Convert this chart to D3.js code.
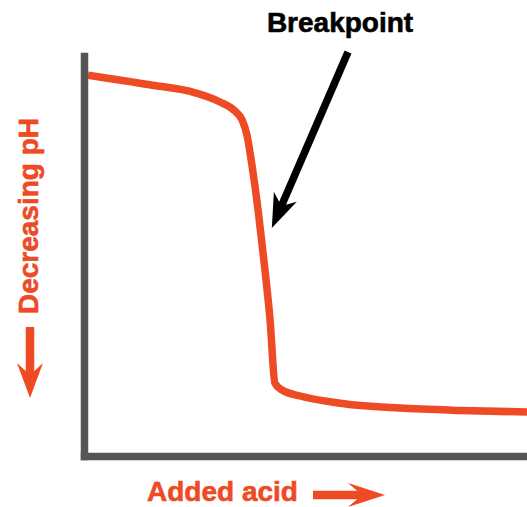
<!DOCTYPE html>
<html>
<head>
<meta charset="utf-8">
<script src="https://cdn.jsdelivr.net/npm/d3@7"></script>
<style>
  body { margin: 0; background: #fff; }
  text { font-family: "Liberation Sans", Arial, sans-serif; font-weight: bold; }
</style>
</head>
<body>
<svg id="chart"></svg>
<script>
// titration curve (x = added acid %, y = pH position %)
let acid = [0.9, 14.9, 25.1, 30.7, 34.1, 35.7, 36.8, 37.9, 39.3, 40.6, 42.0, 43.1, 44.7, 48.8, 57.8, 71.3, 84.9, 100];
let ph = [95.2, 92.8, 90.8, 88.5, 86.2, 84.0, 80.2, 72.8, 61.5, 49.0, 34.0, 18.2, 16.5, 15.0, 13.2, 12.0, 11.4, 11.0];

// annotation arrow, tail and tip, in data units
let breakTail = [59.6, 101];
let breakTip = [42.4, 57];

let config = {
  'svg': { width: 527, height: 507 },
  'plot': { left: 84, right: 527, top: 56, bottom: 456 }
};

let red = "#ee4a24";
let grey = "#555555";

let svg = d3.select("svg#chart")
  .attr("width", config.svg.width)
  .attr("height", config.svg.height);

let scale = {};
scale.x = d3.scaleLinear().domain([0, 100]).range([config.plot.left, config.plot.right]);
scale.y = d3.scaleLinear().domain([0, 100]).range([config.plot.bottom, config.plot.top]);

let axis = {};
axis.x = d3.axisBottom(scale.x).tickValues([]).tickSizeOuter(0);
axis.y = d3.axisLeft(scale.y).tickValues([]).tickSizeOuter(0);

let data = acid.map((a, i) => ({ x: a, y: ph[i] }));

let line = d3.line()
  .x(d => scale.x(d.x))
  .y(d => scale.y(d.y))
  .curve(d3.curveMonotoneX);

svg.append("path")
  .datum(data)
  .attr("d", line)
  .attr("fill", "none")
  .attr("stroke", red)
  .attr("stroke-width", 7.5)
  .attr("stroke-linejoin", "round");

let gx = svg.append("g")
  .attr("transform", translate(0, config.plot.bottom))
  .call(axis.x);

let gy = svg.append("g")
  .attr("transform", translate(config.plot.left, 0))
  .call(axis.y);

[gx, gy].forEach(g => g.select(".domain")
  .attr("stroke", grey)
  .attr("stroke-width", 7.5)
  .attr("stroke-linecap", "square"));

// breakpoint annotation
let t0 = [scale.x(breakTail[0]), scale.y(breakTail[1])];
let t1 = [scale.x(breakTip[0]), scale.y(breakTip[1])];
drawArrow(t0, t1, 7.5, 34, 12.5, 24, "#000");

svg.append("text")
  .text("Breakpoint")
  .attr("x", 340)
  .attr("y", 32)
  .attr("text-anchor", "middle")
  .attr("font-size", "28px")
  .attr("fill", "#000")
  .attr("stroke", "#000")
  .attr("stroke-width", 0.6);

// axis titles
svg.append("text")
  .text("Added acid")
  .attr("x", 147)
  .attr("y", 501)
  .attr("font-size", "28px")
  .attr("fill", red)
  .attr("stroke", red)
  .attr("stroke-width", 0.6);

drawArrow([313, 495], [385, 495], 8.5, 37, 12, 23, red);

svg.append("text")
  .text("Decreasing pH")
  .attr("transform", translate(38, 216) + " rotate(-90)")
  .attr("text-anchor", "middle")
  .attr("font-size", "28px")
  .attr("fill", red)
  .attr("stroke", red)
  .attr("stroke-width", 0.6);

drawArrow([30, 327], [30, 398], 8.5, 35, 13, 23, red);

function drawArrow(from, to, width, len, half, notch, color) {
  let dx = to[0] - from[0], dy = to[1] - from[1];
  let d = Math.hypot(dx, dy);
  let ux = dx / d, uy = dy / d;
  let nx = -uy, ny = ux;
  let nb = [to[0] - ux * notch, to[1] - uy * notch];

  // shaft runs 1px into the head so no seam shows
  svg.append("line")
    .attr("x1", from[0]).attr("y1", from[1])
    .attr("x2", nb[0] + ux).attr("y2", nb[1] + uy)
    .attr("stroke", color)
    .attr("stroke-width", width);

  let pts = [
    to,
    [to[0] - ux * len + nx * half, to[1] - uy * len + ny * half],
    nb,
    [to[0] - ux * len - nx * half, to[1] - uy * len - ny * half]
  ];
  svg.append("path")
    .attr("d", "M" + pts.join("L") + "Z")
    .attr("fill", color);
}

function translate(x, y) {
  return 'translate(' + x + ',' + y + ')';
}
</script>
</body>
</html>
